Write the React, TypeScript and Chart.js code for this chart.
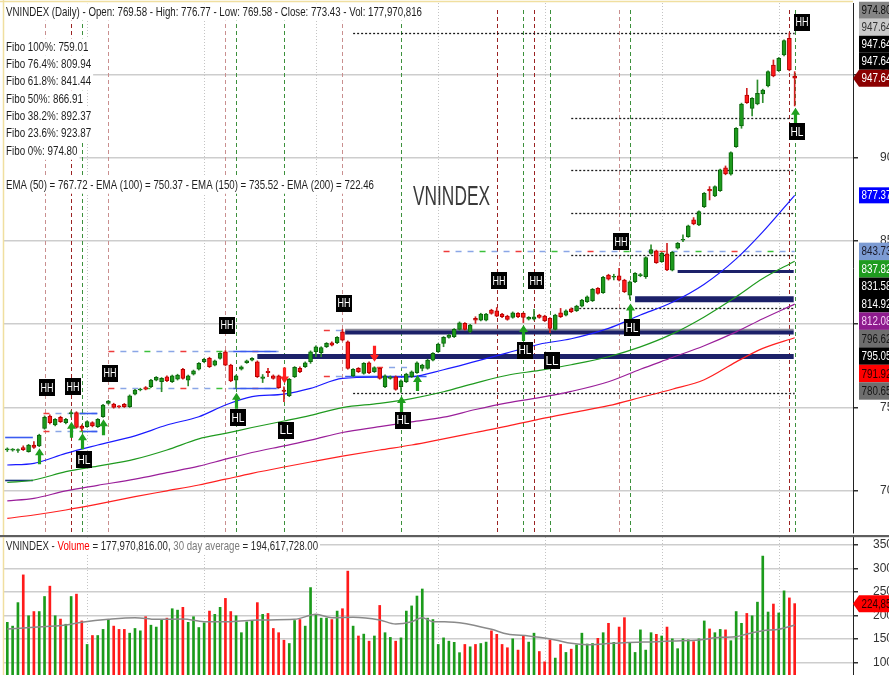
import React, { useEffect, useRef } from "react";
import { Chart, registerables } from "chart.js";

Chart.register(...registerables);

// ---------------- data ----------------
const opens = [
  724.6, 724.4, 724.2, 725.9, 723.5, 727.5, 727.0, 737.5, 744.9, 739.5,
  744.1, 740.9, 746.3, 746.9, 738.9, 738.5, 740.9, 738.5, 744.5, 752.5,
  752.1, 750.6, 752.0, 750.5, 758.0, 760.5, 762.0, 762.5, 766.5, 765.5,
  768.5, 765.5, 767.0, 773.0, 766.5, 770.0, 773.0, 777.5, 779.5, 775.5,
  779.5, 783.5, 775.5, 766.5, 773.0, 777.0, 778.5, 777.5, 767.5, 771.8,
  769.0, 769.0, 760.5, 757.1, 768.5, 773.5, 774.5, 777.5, 783.5, 783.0,
  786.5, 788.9, 788.9, 795.5, 789.5, 769.0, 773.5, 770.5, 776.9, 771.5,
  773.5, 762.5, 767.5, 768.5, 762.5, 765.5, 768.5, 771.0, 773.5, 773.5,
  778.5, 783.5, 788.5, 792.1, 792.5, 796.9, 800.5, 795.5, 803.5, 802.5,
  802.5, 808.5, 808.1, 806.1, 804.9, 804.1, 806.5, 806.5, 803.0, 803.0,
  805.5, 804.9, 803.5, 796.9, 806.9, 805.5, 809.3, 808.1, 810.9, 813.5,
  814.1, 821.5, 819.0, 829.5, 828.2, 829.0, 826.5, 817.5, 825.5, 829.2,
  828.5, 842.5, 844.0, 837.6, 842.2, 832.5, 845.6, 850.4, 852.6, 862.6,
  859.6, 870.5, 881.0, 877.0, 880.2, 893.8, 890.0, 906.6, 919.0, 937.6,
  929.6, 932.2, 938.2, 943.0, 955.6, 952.2, 961.6, 971.6, 949.0,
];
const highs = [
  725.8, 725.4, 725.2, 727.0, 727.9, 729.5, 734.0, 745.0, 745.6, 743.4,
  744.8, 743.5, 748.0, 747.5, 739.6, 742.0, 741.5, 743.4, 752.0, 754.3,
  752.6, 751.2, 752.5, 757.6, 761.0, 761.6, 762.6, 767.0, 768.6, 768.0,
  769.0, 769.5, 770.0, 773.6, 769.5, 772.5, 777.0, 779.5, 780.2, 778.5,
  783.0, 784.2, 776.0, 769.5, 775.0, 778.5, 780.0, 778.0, 769.8, 773.5,
  769.6, 769.5, 762.5, 767.5, 774.6, 774.5, 777.4, 784.0, 787.0, 786.5,
  789.0, 789.5, 792.6, 797.0, 790.0, 773.4, 774.0, 777.0, 777.4, 774.5,
  774.0, 769.6, 769.0, 769.0, 766.6, 770.6, 772.0, 777.4, 776.0, 779.0,
  783.0, 788.6, 792.6, 794.0, 797.4, 801.4, 801.0, 800.0, 804.5, 806.6,
  806.6, 809.0, 810.0, 806.6, 805.4, 807.4, 807.0, 807.0, 804.6, 808.9,
  806.0, 805.4, 804.0, 806.0, 809.5, 808.6, 809.8, 811.4, 815.0, 817.0,
  821.5, 822.0, 828.7, 830.0, 830.0, 833.5, 827.0, 826.0, 831.0, 830.5,
  840.5, 847.6, 844.5, 843.1, 848.6, 843.7, 849.1, 853.6, 859.5, 864.0,
  868.1, 879.1, 882.6, 883.1, 893.1, 895.0, 903.5, 918.1, 932.7, 941.6,
  936.1, 946.6, 941.1, 952.1, 958.6, 960.1, 970.7, 974.8, 951.6,
];
const lows = [
  723.6, 723.8, 723.0, 724.2, 723.2, 725.5, 726.5, 737.0, 740.2, 739.0,
  741.0, 740.2, 744.2, 737.6, 736.0, 738.0, 738.4, 738.0, 744.0, 752.0,
  749.6, 749.8, 750.0, 750.0, 757.5, 760.0, 760.6, 762.0, 766.0, 759.5,
  765.6, 765.0, 766.5, 767.0, 763.0, 769.5, 772.5, 777.0, 774.0, 775.0,
  779.0, 775.0, 765.5, 761.5, 772.5, 776.5, 778.0, 768.0, 765.0, 768.5,
  767.0, 761.5, 753.5, 756.5, 768.0, 771.0, 774.0, 776.5, 780.5, 780.5,
  786.0, 787.0, 788.4, 790.0, 773.0, 768.5, 771.0, 770.0, 770.4, 771.0,
  767.0, 762.0, 767.0, 760.4, 759.0, 765.0, 768.0, 770.5, 772.0, 773.0,
  778.0, 783.0, 786.5, 791.6, 792.0, 796.4, 796.4, 795.0, 800.5, 802.0,
  802.0, 806.0, 804.5, 804.0, 802.4, 803.6, 804.0, 801.0, 802.5, 802.5,
  803.6, 801.6, 794.9, 796.4, 804.0, 805.0, 807.0, 807.6, 810.4, 813.0,
  813.6, 818.0, 818.5, 826.5, 826.6, 826.0, 819.0, 815.0, 825.0, 828.5,
  827.5, 842.0, 836.5, 837.1, 832.1, 832.0, 845.1, 849.6, 852.1, 859.7,
  859.1, 870.0, 874.6, 876.5, 879.7, 889.7, 889.5, 906.1, 917.6, 932.5,
  925.0, 931.7, 933.0, 942.5, 948.5, 951.7, 961.1, 952.1, 931.0,
];
const closes = [
  725.0, 724.9, 724.6, 724.7, 727.5, 726.0, 733.5, 744.1, 740.9, 742.9,
  741.5, 742.9, 746.6, 738.1, 737.5, 741.5, 738.9, 742.9, 751.5, 753.9,
  750.1, 750.4, 750.5, 757.1, 760.5, 761.1, 761.0, 766.5, 768.1, 767.5,
  766.1, 769.0, 769.5, 767.5, 769.0, 772.0, 776.5, 779.0, 774.5, 778.0,
  782.5, 775.5, 766.0, 769.0, 774.5, 778.0, 779.5, 768.5, 768.5, 771.0,
  767.5, 762.0, 759.6, 766.9, 774.1, 771.5, 776.9, 783.5, 786.5, 786.0,
  788.5, 787.5, 792.1, 790.5, 773.5, 772.9, 771.5, 776.5, 770.9, 774.0,
  767.5, 769.1, 768.5, 760.9, 766.1, 770.1, 771.5, 776.9, 775.5, 778.5,
  782.5, 788.1, 792.1, 793.5, 796.9, 800.9, 796.9, 799.5, 802.5, 806.1,
  806.1, 806.5, 804.9, 804.5, 802.9, 806.9, 804.5, 804.1, 804.1, 804.5,
  804.1, 802.1, 797.5, 805.5, 804.5, 808.1, 807.5, 810.9, 814.5, 816.5,
  820.9, 818.5, 828.2, 827.0, 828.6, 826.5, 819.5, 825.5, 830.5, 829.8,
  840.0, 844.8, 837.0, 842.6, 832.6, 843.2, 848.6, 850.8, 859.0, 860.2,
  867.6, 878.6, 880.0, 882.6, 892.6, 890.2, 903.0, 917.6, 932.2, 933.0,
  935.6, 938.6, 940.6, 951.6, 949.0, 959.6, 970.2, 952.6, 947.64,
];
// volume in millions
const volumes = [
  185, 177, 227, 286, 199, 208, 208, 240, 262, 199,
  192, 181, 240, 245, 188, 138, 157, 157, 170, 191,
  177, 170, 170, 162, 172, 167, 197, 179, 175, 191,
  194, 214, 211, 217, 185, 197, 174, 184, 209, 202,
  217, 236, 208, 199, 163, 186, 189, 227, 202, 204,
  172, 163, 147, 140, 189, 191, 177, 259, 202, 194,
  194, 191, 209, 214, 294, 177, 156, 160, 145, 156,
  221, 163, 153, 145, 152, 209, 220, 241, 256, 194,
  191, 138, 152, 145, 142.5, 120.5, 138, 133, 138, 140,
  143, 167, 159.5, 138, 131, 150, 126, 156, 143, 162,
  123, 101, 147.5, 109, 138, 121, 128, 137, 162, 139,
  140, 151, 163, 183, 142.5, 175, 195, 142, 121, 169,
  126, 163, 159.5, 156, 175, 150, 129, 150, 148, 144,
  150, 188, 171, 163, 170, 169, 146, 208, 183, 204,
  199, 228, 326, 207, 224, 205, 252, 237, 224.85,
];

const emaIdx = [0, 5, 11, 17, 24, 30, 36, 41, 46, 52, 57, 63, 70, 76, 82, 88, 94, 100, 106, 113, 119, 125, 131, 137, 142, 148];
const ema50 = [715.5, 716.5, 722.5, 727.5, 733, 739.5, 744.5, 751.5, 756.5, 758.1, 761.5, 767.5, 768.2, 768.5, 772.7, 777.7, 782.8, 788, 791.3, 797.5, 805.5, 813.2, 824, 839.2, 855.4, 877.37];
const ema100 = [705, 706.5, 711.5, 714.8, 719, 724.5, 731.2, 734.5, 738, 741.9, 745.3, 750, 752.5, 755.4, 759.5, 764.7, 769.4, 772.3, 775.7, 780.5, 786.4, 794.2, 804.4, 816.5, 827.4, 837.82];
const ema150 = [694, 695.5, 700, 703.3, 707, 710.9, 714.8, 719, 723, 727, 730.4, 735, 738.5, 741.4, 744.2, 748.8, 752.8, 755.9, 759.7, 765.5, 773, 780, 787.1, 795.4, 803.3, 812.08];
const ema200 = [683.5, 685.5, 688.5, 692, 696.5, 700, 703.5, 707, 710.5, 714.3, 717.3, 720.8, 724.5, 727.5, 731.2, 735, 738.8, 743, 746.8, 751.1, 756, 761, 766.7, 777.4, 785.5, 791.92];

const volAvgIdx = [0, 5, 11, 14, 19, 24, 28, 33, 37, 42, 47, 54, 58, 61, 65, 70, 73, 76, 78, 80, 83, 85, 91, 94, 98, 100, 103, 106, 109, 112, 116, 122, 125, 130, 134, 137, 139, 142, 145, 148];
const volAvg = [171, 174.4, 179.4, 185, 191.4, 195, 191.4, 192.1, 186.5, 186.5, 190, 191.4, 202, 195, 195.7, 190, 181.5, 186.5, 195, 186.5, 186, 184.3, 170.2, 160.2, 156, 153.1, 147.5, 140.4, 137.5, 139, 141.8, 143.9, 145.3, 147.5, 153.1, 154.5, 160.2, 167.3, 170.2, 179.4];

const priceTicks = [700, 750, 800, 850, 900, 950];
const volumeTicks = [100, 150, 200, 250, 300, 350];
const monthStarts = [15, 37, 58, 81, 101, 123, 145];

const hhLineIdx = [7, 12, 19, 41, 63, 92, 99, 115, 147];
const hhLineFaded = [true, false, true, true, true, false, false, true, false];
const hlLineIdx = [14, 43, 52, 74, 97, 102, 117, 148];

const swingIdx = [7, 12, 14, 19, 41, 43, 52, 63, 74, 92, 97, 99, 102, 115, 117, 149, 148];
const swingVal = [762, 762.5, 718.8, 770.6, 799.5, 744, 736.3, 812.5, 742.5, 826, 784.5, 826, 778, 849.5, 798, 981.1, 915.6];
const swingText = ["HH", "HH", "HL", "HH", "HH", "HL", "LL", "HH", "HL", "HH", "HL", "HH", "LL", "HH", "HL", "HH", "HL"];

const arrowIdx = [6, 12, 14, 18, 43, 74, 77, 97, 117, 148, 52, 69];
const arrowTip = [725.5, 741.5, 734.5, 743, 758.9, 756.9, 769.5, 799.5, 812.5, 930, 764.5, 777.5];
const arrowUp = [true, true, true, true, true, true, true, true, true, true, false, false];

const fibPct = ["100%", "76.4%", "61.8%", "50%", "38.2%", "23.6%", "0%"];
const fibVals = [759.01, 809.94, 841.44, 866.91, 892.37, 923.87, 974.8];
const fibFrom = [65, 106, 106, 106, 106, 106, 65];

const supportVals = [831.58, 814.92, 795.05, 780.65];
const supportFrom = [126, 118, 63.5, 47];
const supportWidth = [3, 6, 4, 5];
const grayLineVals = [796.62];
const grayLineFrom = [63.5];

const boxDashVals = [746.5, 736.1, 783.9, 761.5, 796.5, 768.9, 774.5, 843.73];
const boxDashFrom = [6.8, 6.8, 19, 19, 59.5, 59.5, 69.5, 82];
const boxDashTo = [17, 17, 51, 51, 63.5, 63.5, 75.5, 148];
const boxSolidVals = [746.5, 736.1, 783.9, 761.5, 768.9, 732.5, 706.5];
const boxSolidFrom = [13.6, 14.2, 42.5, 42.5, 63.5, -0.4, -0.4];
const boxSolidTo = [16.9, 16.9, 50.6, 50.6, 78.8, 4.8, 4.8];
const boxSolidColor = ["#3b5cf0", "#3b5cf0", "#3b5cf0", "#3b5cf0", "#3b5cf0", "#3b5cf0", "#16327a"];

const topTagVals = [974.8, 947.64, 947.64, 947.64, 947.64];
const topTagBg = ["#858585", "#c9c9c9", "#000000", "#000000", "#8b0000"];
const topTagFg = ["#111111", "#333333", "#ffffff", "#ffffff", "#ffffff"];
const emaTagVal = 877.37;
const lowTagVals = [843.73, 837.82, 831.58, 814.92, 812.08, 796.62, 795.05, 791.92, 780.65];
const lowTagBg = ["#7c9bd3", "#1f9b1f", "#000000", "#000000", "#8e1b8e", "#6e6e6e", "#000000", "#ff0000", "#6e6e6e"];
const lowTagFg = ["#1a1a2a", "#ffffff", "#ffffff", "#ffffff", "#f6d0f6", "#151515", "#ffffff", "#2a0000", "#151515"];
const volTagVal = 224.85;

const headerText = "VNINDEX (Daily) - Open: 769.58 - High: 776.77 - Low: 769.58 - Close: 773.43 - Vol: 177,970,816";
const emaText = "EMA (50) = 767.72 - EMA (100) = 750.37 - EMA (150) = 735.52 - EMA (200) = 722.46";
const volHeaderParts = ["VNINDEX - ", "Volume", " = 177,970,816.00, ", "30 day average", " = 194,617,728.00"];
const volHeaderColors = ["#2a2a2a", "#ff0000", "#2a2a2a", "#7a7a7a", "#2a2a2a"];

// ---------------- layout constants ----------------
const FONT = "'Liberation Sans', Arial, sans-serif";
const CW = 920;
const PRICE_H = 535;
const VOL_H = 140;
const AXIS_X = 853;
const X_MIN = -0.62;
const X_MAX = 158.96;
const DASH_COLORS = ["#ee3b3b", "#8aa6e6", "#8aa6e6", "#3cc03c", "#8aa6e6", "#8aa6e6"];

Chart.defaults.font.family = FONT;

const idx = opens.map((_, i) => i);
const up = idx.map((i) => closes[i] >= opens[i]);

function seg(ctx: CanvasRenderingContext2D, x1: number, y1: number, x2: number, y2: number) {
  ctx.beginPath();
  ctx.moveTo(x1, y1);
  ctx.lineTo(x2, y2);
  ctx.stroke();
}

function drawText(ctx: CanvasRenderingContext2D, text: string, x: number, yc: number, size: number, color: string, targetW: number | null, bg: boolean) {
  ctx.font = `${size}px ${FONT}`;
  const natural = ctx.measureText(text).width;
  const w = targetW == null ? natural * 0.755 : targetW;
  if (bg) {
    ctx.fillStyle = "#ffffff";
    ctx.fillRect(x - 2, yc - 8.7, w + 4, 17.4);
  }
  ctx.fillStyle = color;
  ctx.textAlign = "left";
  ctx.textBaseline = "middle";
  ctx.fillText(text, x, yc, w);
  return w;
}

function drawTag(ctx: CanvasRenderingContext2D, text: string, yc: number, h: number, bg: string, fg: string, arrow: boolean) {
  ctx.fillStyle = bg;
  if (arrow) {
    ctx.beginPath();
    ctx.moveTo(AXIS_X, yc);
    ctx.lineTo(AXIS_X + 6, yc - h / 2);
    ctx.lineTo(CW, yc - h / 2);
    ctx.lineTo(CW, yc + h / 2);
    ctx.lineTo(AXIS_X + 6, yc + h / 2);
    ctx.closePath();
    ctx.fill();
  } else {
    ctx.fillRect(AXIS_X + 6, yc - h / 2, CW - AXIS_X - 6, h);
  }
  drawText(ctx, text, AXIS_X + 8.5, yc + 0.5, 13, fg, null, false);
}

function drawArrow(ctx: CanvasRenderingContext2D, x: number, yTip: number, isUp: boolean) {
  const d = isUp ? 1 : -1;
  ctx.fillStyle = isUp ? "#1f9f1f" : "#ff2020";
  ctx.beginPath();
  ctx.moveTo(x, yTip);
  ctx.lineTo(x + 4.5, yTip + d * 7);
  ctx.lineTo(x + 1.6, yTip + d * 7);
  ctx.lineTo(x + 1.6, yTip + d * 16);
  ctx.lineTo(x - 1.6, yTip + d * 16);
  ctx.lineTo(x - 1.6, yTip + d * 7);
  ctx.lineTo(x - 4.5, yTip + d * 7);
  ctx.closePath();
  ctx.fill();
}

function drawSwing(ctx: CanvasRenderingContext2D, x: number, y: number, text: string) {
  ctx.fillStyle = "#000000";
  ctx.fillRect(Math.round(x - 8), Math.round(y - 8.5), 16, 17);
  ctx.font = `12px ${FONT}`;
  ctx.fillStyle = "#ffffff";
  ctx.textAlign = "center";
  ctx.textBaseline = "middle";
  ctx.fillText(text, Math.round(x), Math.round(y) + 0.5, 13);
}

function multiDash(ctx: CanvasRenderingContext2D, x0: number, x1: number, y: number) {
  ctx.lineWidth = 1.5;
  let k = 0;
  for (let x = x0; x < x1; x += 12, k++) {
    ctx.strokeStyle = DASH_COLORS[k % DASH_COLORS.length];
    seg(ctx, x, y, Math.min(x + 6, x1), y);
  }
}

const pricePlugin = {
  id: "priceDecor",
  beforeDatasetsDraw(chart: any) {
    const { ctx, chartArea: ca } = chart;
    const X = (i: number) => chart.scales.x.getPixelForValue(i);
    const Y = (v: number) => chart.scales.y.getPixelForValue(v);
    ctx.save();
    ctx.beginPath();
    ctx.rect(ca.left, ca.top, ca.right - ca.left, ca.bottom - ca.top);
    ctx.clip();

    ctx.lineWidth = 1;
    ctx.strokeStyle = "#c4c4c4";
    ctx.setLineDash([1, 2]);
    monthStarts.forEach((i) => {
      const px = Math.round(X(i)) + 0.5;
      seg(ctx, px, ca.top, px, ca.bottom);
    });

    ctx.setLineDash([4, 3]);
    hhLineIdx.forEach((i, k) => {
      ctx.strokeStyle = hhLineFaded[k] ? "#c98f8f" : "#9a2222";
      const px = Math.round(X(i)) + 0.5;
      seg(ctx, px, ca.top + 7, px, ca.bottom);
    });
    ctx.strokeStyle = "#3c903c";
    hlLineIdx.forEach((i) => {
      const px = Math.round(X(i)) + 0.5;
      seg(ctx, px, ca.top + 7, px, ca.bottom);
    });
    ctx.setLineDash([]);

    boxDashVals.forEach((v, k) => multiDash(ctx, X(boxDashFrom[k]), X(boxDashTo[k]), Math.round(Y(v)) + 0.5));
    ctx.lineWidth = 1.6;
    boxSolidVals.forEach((v, k) => {
      ctx.strokeStyle = boxSolidColor[k];
      const py = Math.round(Y(v)) + 0.5;
      seg(ctx, X(boxSolidFrom[k]), py, X(boxSolidTo[k]), py);
    });

    ctx.setLineDash([2, 2]);
    ctx.strokeStyle = "#1a1a1a";
    ctx.lineWidth = 1.3;
    fibVals.forEach((v, k) => {
      const py = Math.round(Y(v)) + 0.5;
      seg(ctx, X(fibFrom[k]), py, X(148), py);
    });
    ctx.setLineDash([]);

    grayLineVals.forEach((v, k) => {
      ctx.strokeStyle = "#8d8d9a";
      ctx.lineWidth = 2;
      seg(ctx, X(grayLineFrom[k]), Y(v), X(148) - 1, Y(v));
    });
    supportVals.forEach((v, k) => {
      ctx.strokeStyle = "#1c2169";
      ctx.lineWidth = supportWidth[k];
      seg(ctx, X(supportFrom[k]), Y(v), X(148) - 1, Y(v));
    });
    ctx.restore();
  },
  afterDatasetsDraw(chart: any) {
    const { ctx } = chart;
    const X = (i: number) => chart.scales.x.getPixelForValue(i);
    const Y = (v: number) => chart.scales.y.getPixelForValue(v);
    ctx.save();
    arrowIdx.forEach((i, k) => drawArrow(ctx, Math.round(X(i)) + 0.5, Y(arrowTip[k]), arrowUp[k]));
    swingIdx.forEach((i, k) => drawSwing(ctx, X(i) + 2, Y(swingVal[k]), swingText[k]));
    ctx.restore();
  },
  afterDraw(chart: any) {
    const { ctx } = chart;
    const Y = (v: number) => chart.scales.y.getPixelForValue(v);
    ctx.save();
    drawText(ctx, headerText, 6, 12, 13, "#1e1e1e", 416, true);
    fibVals.forEach((v, k) => {
      drawText(ctx, `Fibo ${fibPct[k]}: ${v.toFixed(2)}`, 6, 47 + k * 17.35, 13, "#1e1e1e", null, true);
    });
    drawText(ctx, emaText, 6, 185, 13, "#1e1e1e", 368, true);
    drawText(ctx, "VNINDEX", 413, 197, 28, "#3a3a3a", 77, false);

    // right side value tags
    const anchorTop = Y(topTagVals[topTagVals.length - 1]);
    topTagVals.forEach((v, k) => {
      const yc = anchorTop - (topTagVals.length - 1 - k) * 17;
      drawTag(ctx, v.toFixed(2), yc, 17, topTagBg[k], topTagFg[k], k === topTagVals.length - 1);
    });
    drawTag(ctx, emaTagVal.toFixed(2), Y(emaTagVal), 16, "#0000ff", "#ffffff", false);
    const anchorLow = Y(lowTagVals[0]);
    lowTagVals.forEach((v, k) => {
      drawTag(ctx, v.toFixed(2), anchorLow + k * 17.45, 17.45, lowTagBg[k], lowTagFg[k], false);
    });

    // frame
    ctx.strokeStyle = "#f0dfa0";
    ctx.lineWidth = 1.5;
    seg(ctx, 3.5, 0, 3.5, PRICE_H);
    seg(ctx, 0, 1.5, AXIS_X, 1.5);
    ctx.restore();
  },
};

const volPlugin = {
  id: "volDecor",
  beforeDatasetsDraw(chart: any) {
    const { ctx, chartArea: ca } = chart;
    const X = (i: number) => chart.scales.x.getPixelForValue(i);
    ctx.save();
    ctx.lineWidth = 1;
    ctx.strokeStyle = "#c4c4c4";
    ctx.setLineDash([1, 2]);
    monthStarts.forEach((i) => {
      const px = Math.round(X(i)) + 0.5;
      seg(ctx, px, ca.top, px, ca.bottom);
    });
    ctx.restore();
  },
  afterDraw(chart: any) {
    const { ctx } = chart;
    const Y = (v: number) => chart.scales.y.getPixelForValue(v);
    ctx.save();
    // header
    ctx.font = `13px ${FONT}`;
    const widths = volHeaderParts.map((p) => ctx.measureText(p).width);
    const total = widths.reduce((a, b) => a + b, 0);
    const s = 312 / total;
    ctx.fillStyle = "#ffffff";
    ctx.fillRect(4, 2.5, 316, 16.5);
    let x = 6;
    volHeaderParts.forEach((p, k) => {
      drawText(ctx, p, x, 11, 13, volHeaderColors[k], widths[k] * s, false);
      x += widths[k] * s;
    });
    // tag
    drawTag(ctx, String(volTagVal).replace(".", ","), Y(volTagVal), 17, "#ff0000", "#2a0000", true);
    // separator + frame
    ctx.fillStyle = "#5e5e5e";
    ctx.fillRect(0, 0, CW, 2.2);
    ctx.strokeStyle = "#f0dfa0";
    ctx.lineWidth = 1.5;
    seg(ctx, 3.5, 2, 3.5, VOL_H);
    ctx.restore();
  },
};

function priceConfig(): any {
  return {
    type: "bar",
    data: {
      datasets: [
        {
          type: "bar",
          data: idx.map((i) => ({ x: i, y: [opens[i], closes[i]] })),
          backgroundColor: idx.map((i) => (up[i] ? "#1d9a1d" : "#ff1a1a")),
          borderColor: idx.map((i) => (up[i] ? "#0c650c" : "#b40000")),
          borderWidth: 1,
          borderSkipped: false,
          barThickness: 4,
          minBarLength: 1,
          grouped: false,
        },
        {
          type: "bar",
          data: idx.map((i) => ({ x: i, y: [lows[i], highs[i]] })),
          backgroundColor: idx.map((i) => (up[i] ? "#2d8d2d" : "#d02020")),
          borderWidth: 0,
          barThickness: 1,
          grouped: false,
        },
        { type: "line", data: emaIdx.map((i, k) => ({ x: i, y: ema50[k] })), borderColor: "#1a1aff", borderWidth: 1.2, pointRadius: 0, cubicInterpolationMode: "monotone" },
        { type: "line", data: emaIdx.map((i, k) => ({ x: i, y: ema100[k] })), borderColor: "#1f9a1f", borderWidth: 1.2, pointRadius: 0, cubicInterpolationMode: "monotone" },
        { type: "line", data: emaIdx.map((i, k) => ({ x: i, y: ema150[k] })), borderColor: "#9a1f9a", borderWidth: 1.2, pointRadius: 0, cubicInterpolationMode: "monotone" },
        { type: "line", data: emaIdx.map((i, k) => ({ x: i, y: ema200[k] })), borderColor: "#ff2020", borderWidth: 1.2, pointRadius: 0, cubicInterpolationMode: "monotone" },
      ],
    },
    options: {
      animation: false,
      responsive: false,
      maintainAspectRatio: false,
      devicePixelRatio: 1,
      events: [],
      layout: { padding: { left: 4, top: 3, right: 0, bottom: 2 } },
      plugins: { legend: { display: false }, tooltip: { enabled: false } },
      scales: {
        x: { type: "linear", min: X_MIN, max: X_MAX, display: false, offset: false },
        y: {
          position: "right",
          min: 674.7,
          max: 992.8,
          afterBuildTicks: (sc: any) => {
            sc.ticks = priceTicks.map((v) => ({ value: v }));
          },
          afterFit: (sc: any) => {
            sc.width = CW - AXIS_X;
            sc.paddingTop = 0;
            sc.paddingBottom = 0;
          },
          ticks: { padding: 22, color: "#333", font: { size: 12, family: FONT }, callback: (v: any) => String(v) },
          grid: { color: "#cdcdcd", lineWidth: 1.5, drawTicks: true, tickLength: 5, tickColor: "#333" },
          border: { display: true, color: "#222", width: 1 },
        },
      },
    },
    plugins: [pricePlugin],
  };
}

function volConfig(): any {
  return {
    type: "bar",
    data: {
      datasets: [
        {
          type: "line",
          data: volAvgIdx.map((i, k) => ({ x: i, y: volAvg[k] })),
          borderColor: "#8a8a8a",
          borderWidth: 1.5,
          pointRadius: 0,
          cubicInterpolationMode: "monotone",
        },
        {
          type: "bar",
          data: idx.map((i) => ({ x: i, y: volumes[i] })),
          backgroundColor: idx.map((i) => (up[i] ? "#1b9b1b" : "#ff1a1a")),
          borderWidth: 0,
          barThickness: 2,
          grouped: false,
        },
      ],
    },
    options: {
      animation: false,
      responsive: false,
      maintainAspectRatio: false,
      devicePixelRatio: 1,
      events: [],
      layout: { padding: { left: 4, top: 2, right: 0, bottom: 0 } },
      plugins: { legend: { display: false }, tooltip: { enabled: false } },
      scales: {
        x: { type: "linear", min: X_MIN, max: X_MAX, display: false, offset: false },
        y: {
          position: "right",
          min: 73,
          max: 366.6,
          afterBuildTicks: (sc: any) => {
            sc.ticks = volumeTicks.map((v) => ({ value: v }));
          },
          afterFit: (sc: any) => {
            sc.width = CW - AXIS_X;
            sc.paddingTop = 0;
            sc.paddingBottom = 0;
          },
          ticks: { padding: 15, color: "#333", font: { size: 12, family: FONT }, callback: (v: any) => String(v) },
          grid: { color: "#cdcdcd", lineWidth: 1.5, drawTicks: true, tickLength: 5, tickColor: "#333" },
          border: { display: true, color: "#222", width: 1 },
        },
      },
    },
    plugins: [volPlugin],
  };
}

export default function App() {
  const priceRef = useRef<HTMLCanvasElement>(null);
  const volRef = useRef<HTMLCanvasElement>(null);
  useEffect(() => {
    const pc = new Chart(priceRef.current as HTMLCanvasElement, priceConfig());
    const vc = new Chart(volRef.current as HTMLCanvasElement, volConfig());
    return () => {
      pc.destroy();
      vc.destroy();
    };
  }, []);
  return (
    <div style={{ position: "fixed", left: 0, top: 0, width: 889, height: 675, overflow: "hidden", background: "#ffffff" }}>
      <canvas ref={priceRef} width={CW} height={PRICE_H} style={{ position: "absolute", left: 0, top: 0, width: CW, height: PRICE_H }} />
      <canvas ref={volRef} width={CW} height={VOL_H} style={{ position: "absolute", left: 0, top: PRICE_H, width: CW, height: VOL_H }} />
    </div>
  );
}
